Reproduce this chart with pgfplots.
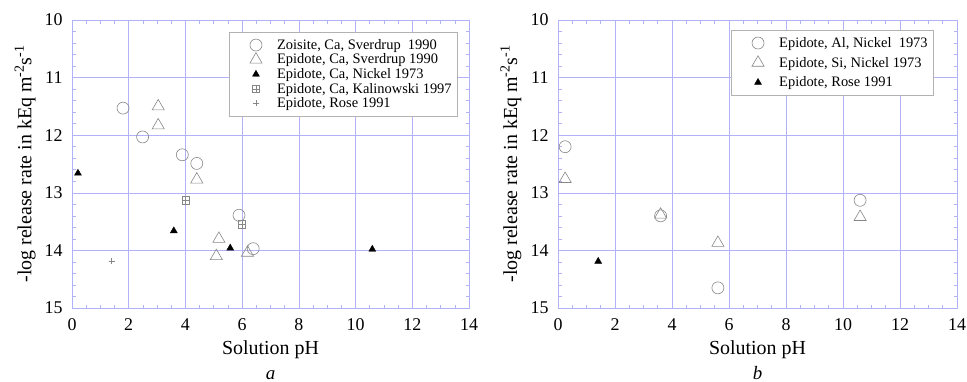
\documentclass[border=0pt]{standalone}
\usepackage{fontspec}
\setmainfont{Liberation Serif}
\usepackage{pgfplots}
\pgfplotsset{compat=1.18}
\definecolor{axblue}{RGB}{178,178,250}
\definecolor{mkgray}{RGB}{135,135,135}

\pgfdeclareplotmark{boxplus}{%
  \pgfpathrectangle{\pgfpoint{-\pgfplotmarksize}{-\pgfplotmarksize}}{\pgfpoint{2\pgfplotmarksize}{2\pgfplotmarksize}}%
  \pgfpathmoveto{\pgfpoint{-\pgfplotmarksize}{0pt}}\pgfpathlineto{\pgfpoint{\pgfplotmarksize}{0pt}}%
  \pgfpathmoveto{\pgfpoint{0pt}{-\pgfplotmarksize}}\pgfpathlineto{\pgfpoint{0pt}{\pgfplotmarksize}}%
  \pgfusepathqstroke}

\pgfplotsset{myaxis/.style={
  scale only axis, width=397bp, height=288bp,
  xmin=0, xmax=14, ymin=10, ymax=15, y dir=reverse,
  xtick={0,2,...,14}, ytick={10,11,...,15},
  minor x tick num=3, minor y tick num=4,
  grid=major, major grid style={axblue, line width=0.6pt},
  axis line style={axblue, line width=0.8pt},
  every tick/.style={axblue, line width=0.6pt},
  tick align=inside, tick pos=both,
  major tick length=5bp, minor tick length=3.5bp,
  /pgf/number format/assume math mode=true,
  ticklabel style={font=\fontsize{18}{18}\selectfont, text=black},
  xticklabel style={yshift=-7bp},
  yticklabel style={xshift=-6bp},
  xlabel={Solution pH},
  ylabel={-log release rate in kEq m\textsuperscript{-2}s\textsuperscript{-1}},
  label style={font=\fontsize{20}{20}\selectfont},
  xlabel style={at={(axis description cs:0.5,0)}, anchor=center, yshift=-42bp},
  legend cell align=left,
  legend image code/.code={%
    \path (0bp,0bp) (42bp,0bp);
    \draw[#1] plot coordinates {(23bp,0bp)};},
  legend style={font=\fontsize{14.5}{14.5}\selectfont, draw=black!30, fill=white,
    inner xsep=4bp, inner ysep=5bp, /tikz/every even column/.append style={column sep=4bp}},
  only marks, clip=false,
}}

\begin{document}
\begin{tikzpicture}
\path[use as bounding box] (0,0) rectangle (967bp,382bp);

\begin{axis}[myaxis, name=A, at={(72bp,74bp)}, anchor=south west,
  ylabel style={at={(axis description cs:-0.118,0.5)}, anchor=center},
  legend style={at={(axis description cs:0.972,0.958)}, anchor=north east, row sep=-0.9bp}]
\addplot[mark=o, mark size=6bp, mkgray, mark options={line width=0.6pt}] coordinates {
 (1.80,11.53) (2.49,12.03) (3.89,12.34) (4.40,12.49) (5.89,13.39) (6.39,13.97)};
\addlegendentry{Zoisite, Ca, Sverdrup\ \ 1990}
\addplot[mark=triangle, mark size=7bp, mkgray, mark options={line width=0.6pt}] coordinates {
 (3.04,11.50) (3.04,11.83) (4.40,12.77) (5.18,13.80) (5.09,14.10) (6.19,14.04)};
\addlegendentry{Epidote, Ca, Sverdrup 1990}
\addplot[mark=triangle*, mark size=4bp, black] coordinates {
 (0.21,12.66) (3.59,13.66) (5.58,13.96) (10.59,13.98)};
\addlegendentry{Epidote, Ca, Nickel 1973}
\addplot[mark=boxplus, mark size=3.8bp, mkgray, mark options={line width=0.6pt}] coordinates {
 (4.01,13.13) (5.99,13.55)};
\addlegendentry{Epidote, Ca, Kalinowski 1997}
\addplot[mark=+, mark size=3bp, mkgray, mark options={line width=0.5pt}] coordinates {
 (1.40,14.18)};
\addlegendentry{Epidote, Rose 1991}
\end{axis}
\node[font=\fontsize{19}{19}\selectfont\itshape, anchor=center, inner sep=0pt] at ([yshift=-67bp]A.south) {a};

\begin{axis}[myaxis, name=B, width=399bp, at={(558bp,74bp)}, anchor=south west,
  ylabel style={at={(axis description cs:-0.118,0.5)}, anchor=center},
  legend style={at={(axis description cs:0.942,0.965)}, anchor=north east, row sep=4.2bp}]
\addplot[mark=o, mark size=6bp, mkgray, mark options={line width=0.6pt}] coordinates {
 (0.25,12.20) (3.60,13.40) (5.61,14.65) (10.60,13.13)};
\addlegendentry{Epidote, Al, Nickel\ \ 1973}
\addplot[mark=triangle, mark size=7bp, mkgray, mark options={line width=0.6pt}] coordinates {
 (0.25,12.76) (3.60,13.38) (5.61,13.87) (10.60,13.42)};
\addlegendentry{Epidote, Si, Nickel 1973}
\addplot[mark=triangle*, mark size=4bp, black] coordinates {
 (1.41,14.19)};
\addlegendentry{Epidote, Rose 1991}
\end{axis}
\node[font=\fontsize{19}{19}\selectfont\itshape, anchor=center, inner sep=0pt] at ([yshift=-65bp]B.south) {b};
\end{tikzpicture}
\end{document}
